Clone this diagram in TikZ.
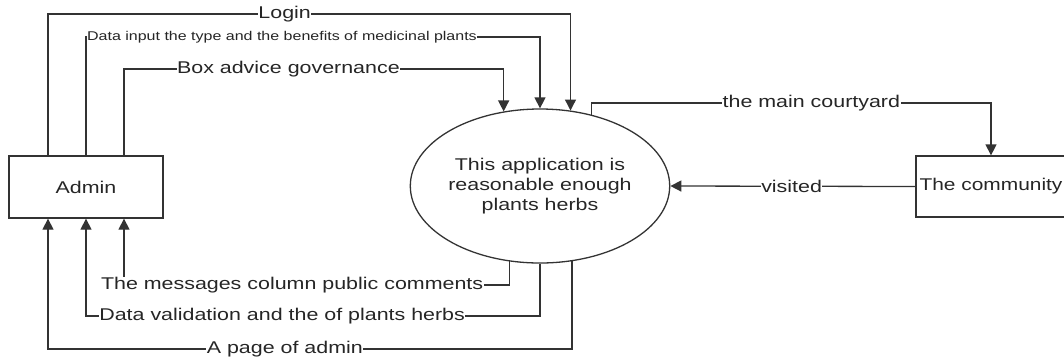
\documentclass[tikz,border=0pt]{standalone}
\usepackage{fontspec}
\setmainfont{Liberation Sans}
\usepackage{graphicx}
\usetikzlibrary{positioning,calc,shapes.geometric,arrows.meta}
\newcommand{\wtxt}[1]{\scalebox{1.26}[1]{#1}}

\begin{document}
\begin{tikzpicture}[x=1pt,y=-1pt,
  entity/.style={rectangle,draw=black!80,line width=1.3pt,minimum width=154pt,minimum height=62pt,inner sep=0pt,font=\fontsize{17}{20}\selectfont,text=black!85},
  proc/.style={ellipse,draw=black!80,line width=1.3pt,minimum width=190pt,minimum height=154pt,inner sep=0pt,align=center,font=\fontsize{17}{20}\selectfont,text=black!85},
  flow/.style={-{Triangle[length=11pt,width=11pt]},line width=1.3pt,black!80},
  lbl/.style={fill=white,inner sep=0.5pt,font=\fontsize{17}{20}\selectfont,text=black!85},
  smalllbl/.style={lbl,font=\fontsize{12.7}{15}\selectfont},
]
\clip (0,0) rectangle (1064,360);

% Entities and process
\node[entity] (admin) at (86,187) {\wtxt{Admin}};
\node[proc] (app) at (540,186) {\wtxt{This application is}\\\wtxt{reasonable enough}\\\wtxt{plants herbs}};
\node[entity,minimum width=150pt,minimum height=61pt] (comm) at (991,186.5) {\scalebox{1.23}[1]{The community}};

% Corner points of the flows
\coordinate (loginL) at (48,14);
\coordinate (inputL) at (86,37);
\coordinate (adviceL) at (124,69);
\coordinate (yardlvl) at (0,103);
\coordinate (msgL) at (124,285);
\coordinate (validL) at (86,316);
\coordinate (pageL) at (48,349);

% Admin -> application
\draw[flow] (admin.north -| loginL) -- (loginL) -| node[lbl,pos=0.2265] {\wtxt{Login}} (app.68);
\draw[flow] (admin.north -| inputL) -- (inputL) -| node[smalllbl,pos=0,anchor=west] {\wtxt{Data input the type and the benefits of medicinal plants}} (app.90);
\draw[flow] (admin.north -| adviceL) -- (adviceL) -| node[lbl,pos=0.2165] {\wtxt{Box advice governance}} (app.116);

% Application <-> community
\draw[flow] (app.54) -- (app.54 |- yardlvl) -| node[lbl,pos=0.275] {\wtxt{the main courtyard}} (comm.north);
\draw[flow] (comm.west) -- node[lbl,pos=0.505] {\wtxt{visited}} (app.east);

% Application -> admin
\draw[flow] (app.-112) |- node[lbl,pos=0.782] {\wtxt{The messages column public comments}} (msgL) -- (admin.south -| msgL);
\draw[flow] (app.south) |- node[lbl,pos=0.784] {\wtxt{Data validation and the of plants herbs}} (validL) -- (admin.south -| validL);
\draw[flow] (app.-67) |- node[lbl,pos=0.774] {\wtxt{A page of admin}} (pageL) -- (admin.south -| pageL);
\end{tikzpicture}
\end{document}
